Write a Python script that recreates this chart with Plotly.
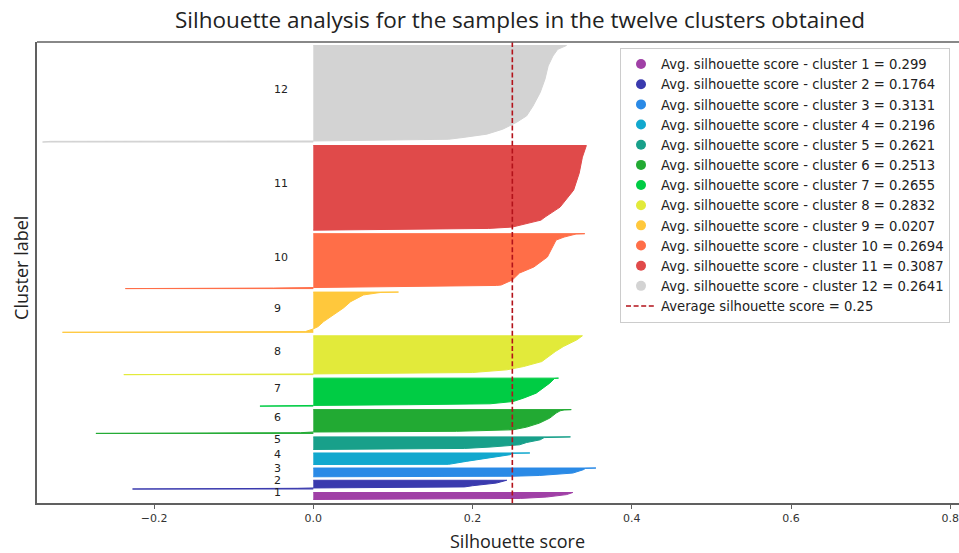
import plotly.graph_objects as go

# ---------------- data ----------------
cluster_ids = [1, 2, 3, 4, 5, 6, 7, 8, 9, 10, 11, 12]
cluster_sizes = [20, 25, 25, 33, 36, 68, 80, 111, 115, 157, 242, 276]
avg_scores = ["0.299", "0.1764", "0.3131", "0.2196", "0.2621", "0.2513",
              "0.2655", "0.2832", "0.0207", "0.2694", "0.3087", "0.2641"]
overall_avg = 0.25
cluster_colors = ["#a040a6", "#3a3aae", "#2a8ae6", "#12a8ce", "#18a08a", "#22aa33",
                  "#00cc44", "#e2ea3a", "#ffc83c", "#ff6e48", "#e04a4a", "#d3d3d3"]

# sorted silhouette values (bottom -> top) at sample ranks inside each cluster
rank_c1 = [0, 1, 3, 7, 14, 20]
sil_c1 = [0.0, 0.20, 0.26, 0.293, 0.318, 0.326]
rank_c2 = [0, 1, 2, 3, 4, 6, 9.4, 17, 25]
sil_c2 = [-0.227, -0.10, -0.02, 0.0, 0.15, 0.19, 0.20, 0.23, 0.243]
rank_c3 = [0, 0.7, 1.5, 3.7, 10.6, 20, 24, 25]
sil_c3 = [0.0, 0.20, 0.25, 0.284, 0.326, 0.339, 0.342, 0.355]
rank_c4 = [0, 0.5, 9, 18.6, 28, 32, 33]
sil_c4 = [0.0, 0.17, 0.192, 0.222, 0.247, 0.25, 0.272]
rank_c5 = [0, 1, 3, 6.9, 13.4, 20, 27.7, 34, 35, 36]
sil_c5 = [0.0, 0.10, 0.19, 0.222, 0.259, 0.268, 0.285, 0.29, 0.30, 0.323]
rank_c6 = [0, 1, 2, 4, 6, 10.3, 18, 29.4, 43.7, 58, 64.5, 67, 68]
sil_c6 = [-0.273, -0.10, -0.016, 0.0, 0.18, 0.251, 0.268, 0.284, 0.297, 0.305, 0.31, 0.315, 0.324]
rank_c7 = [0, 1, 2, 4, 6.6, 13.1, 22.8, 37.1, 51.4, 65.7, 79, 80]
sil_c7 = [-0.067, -0.03, 0.0, 0.12, 0.222, 0.251, 0.264, 0.280, 0.289, 0.297, 0.303, 0.308]
rank_c8 = [0, 1, 2, 4, 6, 13.7, 23.1, 37.4, 51.7, 66, 80.2, 99.4, 111]
sil_c8 = [-0.238, -0.20, 0.0, 0.10, 0.20, 0.243, 0.264, 0.287, 0.295, 0.304, 0.314, 0.331, 0.338]
rank_c9 = [0, 1, 2, 9.7, 16.3, 30.6, 49.7, 69.7, 87.7, 106.8, 112.5, 114, 115]
sil_c9 = [-0.315, -0.30, -0.01, 0.0, 0.006, 0.013, 0.025, 0.038, 0.047, 0.063, 0.08, 0.085, 0.107]
rank_c10 = [0, 1.5, 3, 5, 9, 10.3, 24.6, 44.5, 61.7, 90.2, 118.8, 138.8, 147.3, 154.5, 156, 157]
sil_c10 = [-0.236, -0.05, 0.0, 0.10, 0.23, 0.236, 0.25, 0.259, 0.277, 0.294, 0.301, 0.305,
           0.315, 0.325, 0.33, 0.341]
rank_c11 = [0, 2, 5, 8.9, 20.3, 28.8, 37.4, 66, 114.5, 163, 208.8, 242]
sil_c11 = [0.0, 0.10, 0.22, 0.25, 0.272, 0.286, 0.291, 0.310, 0.327, 0.334, 0.338, 0.343]
rank_c12 = [0, 2, 3, 5, 8, 13, 22.6, 36.8, 56, 74.8, 103, 141.6, 179.6, 217.6, 246, 265, 276]
sil_c12 = [-0.34, -0.33, 0.0, 0.10, 0.17, 0.188, 0.218, 0.238, 0.255, 0.268, 0.276, 0.285,
           0.291, 0.295, 0.301, 0.307, 0.318]

x_tick_values = [-0.2, 0.0, 0.2, 0.4, 0.6, 0.8]
x_tick_labels = ["\u22120.2", "0.0", "0.2", "0.4", "0.6", "0.8"]

ranks = [rank_c1, rank_c2, rank_c3, rank_c4, rank_c5, rank_c6,
         rank_c7, rank_c8, rank_c9, rank_c10, rank_c11, rank_c12]
sils = [sil_c1, sil_c2, sil_c3, sil_c4, sil_c5, sil_c6,
        sil_c7, sil_c8, sil_c9, sil_c10, sil_c11, sil_c12]

# ---------------- figure ----------------
fig = go.Figure()
annotations = []
y_lower = 10
for cid, size, rk, sv, col in zip(cluster_ids, cluster_sizes, ranks, sils, cluster_colors):
    y_upper = y_lower + size
    xs = [0.0] + list(sv) + [0.0]
    ys = [y_lower] + [y_lower + r for r in rk] + [y_upper]
    fig.add_trace(go.Scatter(x=xs, y=ys, mode="lines", fill="toself", fillcolor=col,
                             line=dict(color=col, width=1), showlegend=False,
                             hoverinfo="skip"))
    annotations.append(dict(x=-0.05, y=y_lower + 0.5 * size, xref="x", yref="y",
                            text=str(cid), showarrow=False, xanchor="left",
                            yanchor="middle", yshift=4, borderpad=0,
                            font=dict(family="DejaVu Sans", size=11, color="#222222")))
    y_lower = y_upper + 10
y_max = y_lower

for cid, score, col in zip(cluster_ids, avg_scores, cluster_colors):
    fig.add_trace(go.Scatter(x=[None], y=[None], mode="markers",
                             marker=dict(color=col, size=10, symbol="circle"),
                             name=f"Avg. silhouette score - cluster {cid} = {score}"))

fig.add_trace(go.Scatter(x=[overall_avg, overall_avg], y=[0, y_max], mode="lines",
                         line=dict(color="#b3121a", width=1.6, dash="5px,2.6px"),
                         name=f"Average silhouette score = {overall_avg}"))

annotations.append(dict(x=(517 - 37) / 922, y=(503.3 - 541) / 461, xref="paper", yref="paper",
                        text="Silhouette score", showarrow=False, xanchor="center",
                        yanchor="middle",
                        font=dict(family="Open Sans", size=18, color="#222222")))
annotations.append(dict(x=(21.7 - 37) / 922, y=(503.3 - 268.5) / 461, xref="paper",
                        yref="paper", text="Cluster label", showarrow=False,
                        xanchor="center", yanchor="middle", textangle=-90,
                        font=dict(family="Open Sans", size=18, color="#222222")))

fig.update_layout(
    width=959, height=553,
    margin=dict(l=37, r=0, t=42, b=50),
    paper_bgcolor="white", plot_bgcolor="white",
    title=dict(text="Silhouette analysis for the samples in the twelve clusters obtained",
               x=520 / 959, xanchor="center", y=1 - 20 / 553, yanchor="middle",
               xref="container", yref="container",
               font=dict(family="Open Sans", size=22.5, color="#222222")),
    xaxis=dict(range=[-0.347, 0.811], tickvals=x_tick_values, ticktext=x_tick_labels,
               showgrid=False, zeroline=False, showline=True, linecolor="#606060",
               linewidth=1.5, ticks="outside", ticklen=4, tickcolor="#606060",
               tickfont=dict(family="DejaVu Sans", size=11, color="#333333")),
    yaxis=dict(range=[0, y_max], showticklabels=False, ticks="", showgrid=False,
               zeroline=False, showline=True, linecolor="#606060", linewidth=1.5),
    legend=dict(x=(620 - 37) / 922, y=(503.3 - 48.3) / 461, xanchor="left", yanchor="top",
                bgcolor="white", bordercolor="#cccccc", borderwidth=1,
                font=dict(family="DejaVu Sans", size=13.2, color="#222222")),
    annotations=annotations,
    shapes=[dict(type="line", xref="paper", yref="paper", x0=0, x1=1, y0=1, y1=1,
                 line=dict(color="#606060", width=1.5))],
)

fig.write_html("out.html")
